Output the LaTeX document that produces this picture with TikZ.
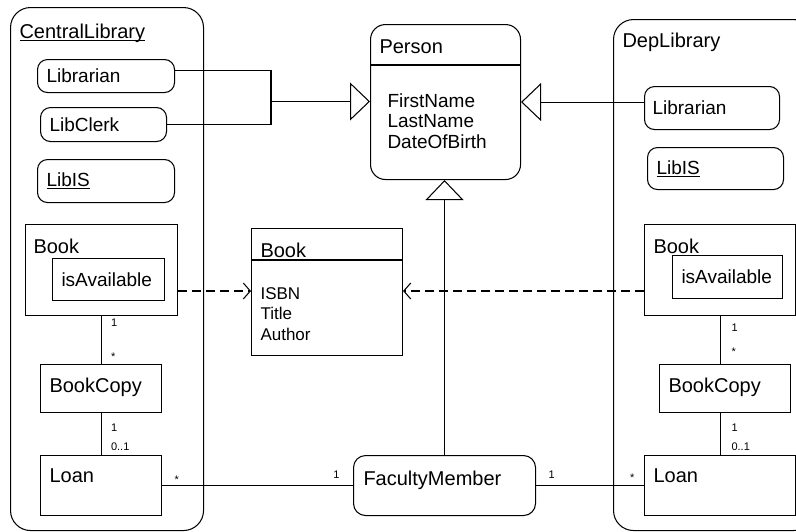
\documentclass[tikz,border=0pt]{standalone}
\usepackage{fontspec}
\setmainfont{Liberation Sans}
\usetikzlibrary{positioning,arrows.meta}
\newsavebox{\ulbox}
\newcommand{\ulname}[1]{\sbox{\ulbox}{#1}\rlap{\rule[-2.5pt]{\wd\ulbox}{1pt}}\usebox{\ulbox}}

\begin{document}
\begin{tikzpicture}[x=1pt,y=-1pt,line width=1.05pt,
        every node/.style={font=\fontsize{19}{20.5}\selectfont},
        box/.style={draw,anchor=north west,inner sep=0pt},
        role/.style={box,rounded corners=10pt},
        headtxt/.style={anchor=north west,inner xsep=9pt,inner ysep=13pt,font=\fontsize{20}{24}\selectfont},
        midtxt/.style={anchor=west,inner xsep=9pt},
        attrtxt/.style={anchor=north west,align=left,inner sep=0pt},
        mult/.style={inner sep=0pt,font=\fontsize{11}{11}\selectfont},
        gen/.style={-{Triangle[open,length=20pt,width=38pt]}},
        dep/.style={dash pattern=on 9pt off 5pt,-{Straight Barb[length=7pt,width=16pt]}}]
   \useasboundingbox (0,0) rectangle (796,531);

   \node[box,rounded corners=20pt,minimum width=193,minimum height=523,
         label={[headtxt,inner ysep=16pt]north west:\ulname{CentralLibrary}}] (central) at (10,7) {};
   \node[box,rounded corners=20pt,minimum width=200,minimum height=511,
         label={[headtxt]north west:DepLibrary}] (dep) at (613,19) {};

   \node[box,rounded corners=15pt,minimum width=150,minimum height=155,
         label={[headtxt,inner ysep=15pt]north west:Person}] (person) at (370,24) {};
   \draw ([yshift=-41pt]person.north west) -- ([yshift=-41pt]person.north east);
   \node[attrtxt] (pattr) at ([xshift=17pt,yshift=-69pt]person.north west) {FirstName\\LastName\\DateOfBirth};

   \node[box,minimum width=151,minimum height=127,
         label={[headtxt,inner ysep=14pt]north west:Book}] (cbook) at (251,228) {};
   \draw ([yshift=-32pt]cbook.north west) -- ([yshift=-32pt]cbook.north east);
   \node[attrtxt,font=\fontsize{17}{20.5}\selectfont] (battr) at ([xshift=9pt,yshift=-59pt]cbook.north west) {ISBN\\Title\\Author};

   \node[role,rounded corners=12pt,minimum width=182,minimum height=60,
         label={[headtxt,inner xsep=10pt,inner ysep=15pt]north west:FacultyMember}] (fm) at (353,455) {};

   \node[role,minimum width=137,minimum height=33,label={[midtxt]west:Librarian}] (llib) at (37,59) {};
   \node[role,minimum width=126,minimum height=34,label={[midtxt]west:LibClerk}] (lclerk) at (40,107) {};
   \node[role,minimum width=137,minimum height=43,label={[midtxt]west:\ulname{LibIS}}] (lis) at (37,159) {};
   \node[box,minimum width=152,minimum height=91,label={[headtxt,inner xsep=8pt,inner ysep=14pt]north west:Book}] (lbook) at (25,224) {};
   \node[box,minimum width=112,minimum height=42,label={[midtxt]west:isAvailable}] (lavail) at (52,258) {};
   \node[box,minimum width=121,minimum height=48,label={[headtxt]north west:BookCopy}] (lcopy) at (40,364) {};
   \node[box,minimum width=121,minimum height=60,label={[headtxt]north west:Loan}] (lloan) at (40,455) {};

   \node[role,minimum width=135,minimum height=43,label={[midtxt,inner xsep=8pt]west:Librarian}] (rlib) at (644,86) {};
   \node[role,minimum width=136,minimum height=42,label={[midtxt]west:\ulname{LibIS}}] (ris) at (647,147) {};
   \node[box,minimum width=151,minimum height=91,label={[headtxt,inner ysep=14pt]north west:Book}] (rbook) at (644,224) {};
   \node[box,minimum width=110,minimum height=43,label={[midtxt]west:isAvailable}] (ravail) at (672,255) {};
   \node[box,minimum width=131,minimum height=48,label={[headtxt]north west:BookCopy}] (rcopy) at (659,364) {};
   \node[box,minimum width=151,minimum height=60,label={[headtxt]north west:Loan}] (rloan) at (644,455) {};

   \coordinate (lmerge) at (271,101.5);
   \coordinate (rjoin) at ([yshift=6pt]rlib.west);
   \draw ([yshift=5.5pt]llib.east) -| (lmerge);
   \draw (lclerk.east) -| (lmerge);
   \draw[gen] (lmerge) -- (lmerge -| person.west);
   \draw[gen] (rjoin) -- (rjoin -| person.east);
   \draw[gen] (fm.north) -- (fm.north |- person.south);

   \draw[dep] (lbook.east |- 0,291) -- (cbook.west |- 0,291);
   \draw[dep] (rbook.west |- 0,291) -- (cbook.east |- 0,291);

   \draw (lbook.south) -- node[mult,at start,anchor=north west,xshift=9pt,yshift=-2pt] {1}
      node[mult,at end,anchor=south west,xshift=9pt,yshift=3pt] {*} (lbook.south |- lcopy.north);
   \draw (lbook.south |- lcopy.south) -- node[mult,at start,anchor=north west,xshift=9pt,yshift=-10pt] {1}
      node[mult,at end,anchor=south west,xshift=9pt,yshift=4pt] {0..1} (lbook.south |- lloan.north);
   \draw (rbook.south) -- node[mult,at start,anchor=north west,xshift=11pt,yshift=-7pt] {1}
      node[mult,at end,anchor=south west,xshift=11pt,yshift=8pt] {*} (rbook.south |- rcopy.north);
   \draw (rbook.south |- rcopy.south) -- node[mult,at start,anchor=north west,xshift=11pt,yshift=-10pt] {1}
      node[mult,at end,anchor=south west,xshift=11pt,yshift=4pt] {0..1} (rbook.south |- rloan.north);

   \draw (lloan.east) -- node[mult,at start,anchor=south west,xshift=12pt,yshift=2pt] {*}
      node[mult,at end,anchor=south east,xshift=-13pt,yshift=7pt] {1} (fm.west);
   \draw (fm.east) -- node[mult,at start,anchor=south west,xshift=12pt,yshift=7pt] {1}
      node[mult,at end,anchor=south east,xshift=-9pt,yshift=4pt] {*} (rloan.west);
\end{tikzpicture}
\end{document}
